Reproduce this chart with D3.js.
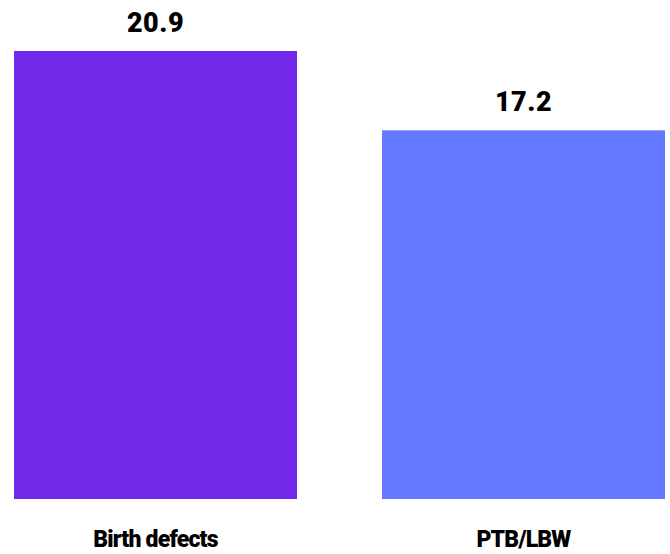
<!DOCTYPE html>
<html>
<head>
<meta charset="utf-8">
<script src="https://cdn.jsdelivr.net/npm/d3@7"></script>
<style>
  body { margin: 0; background: #fff; }
  text { font-family: Roboto, "Liberation Sans", sans-serif; font-weight: 900; fill: #000; }
</style>
</head>
<body>
<div id="chart"></div>
<script>
const categories = ["Birth defects", "PTB/LBW"];
const values = [20.9, 17.2];
const colors = ["#7229EA", "#6479FF"];

const width = 670;
const height = 554;
const margin = {top: 51, right: 5, bottom: 55, left: 14};

const svg = d3.select("#chart")
  .append("svg")
  .attr("width", width)
  .attr("height", height);

const x = d3.scaleBand()
  .domain(categories)
  .range([margin.left, width - margin.right])
  .paddingInner(0.231)
  .paddingOuter(0);

const y = d3.scaleLinear()
  .domain([0, d3.max(values)])
  .range([height - margin.bottom, margin.top]);

const bars = svg.selectAll("g.bar")
  .data(categories)
  .enter()
  .append("g")
  .attr("class", "bar");

bars.append("rect")
  .attr("x", d => x(d))
  .attr("y", (d, i) => y(values[i]))
  .attr("width", x.bandwidth())
  .attr("height", (d, i) => y(0) - y(values[i]))
  .attr("fill", (d, i) => colors[i]);

// value labels over bars
bars.append("text")
  .text((d, i) => values[i].toFixed(1))
  .attr("x", d => x(d) + x.bandwidth() / 2)
  .attr("y", (d, i) => y(values[i]) - 19)
  .attr("text-anchor", "middle")
  .style("font-size", "27px")
  .style("letter-spacing", "0.5px");

bars.append("text")
  .text(d => d)
  .attr("x", d => x(d) + x.bandwidth() / 2)
  .attr("y", height - 7)
  .attr("text-anchor", "middle")
  .style("font-size", "23px")
  .style("letter-spacing", "-0.8px");
</script>
</body>
</html>
